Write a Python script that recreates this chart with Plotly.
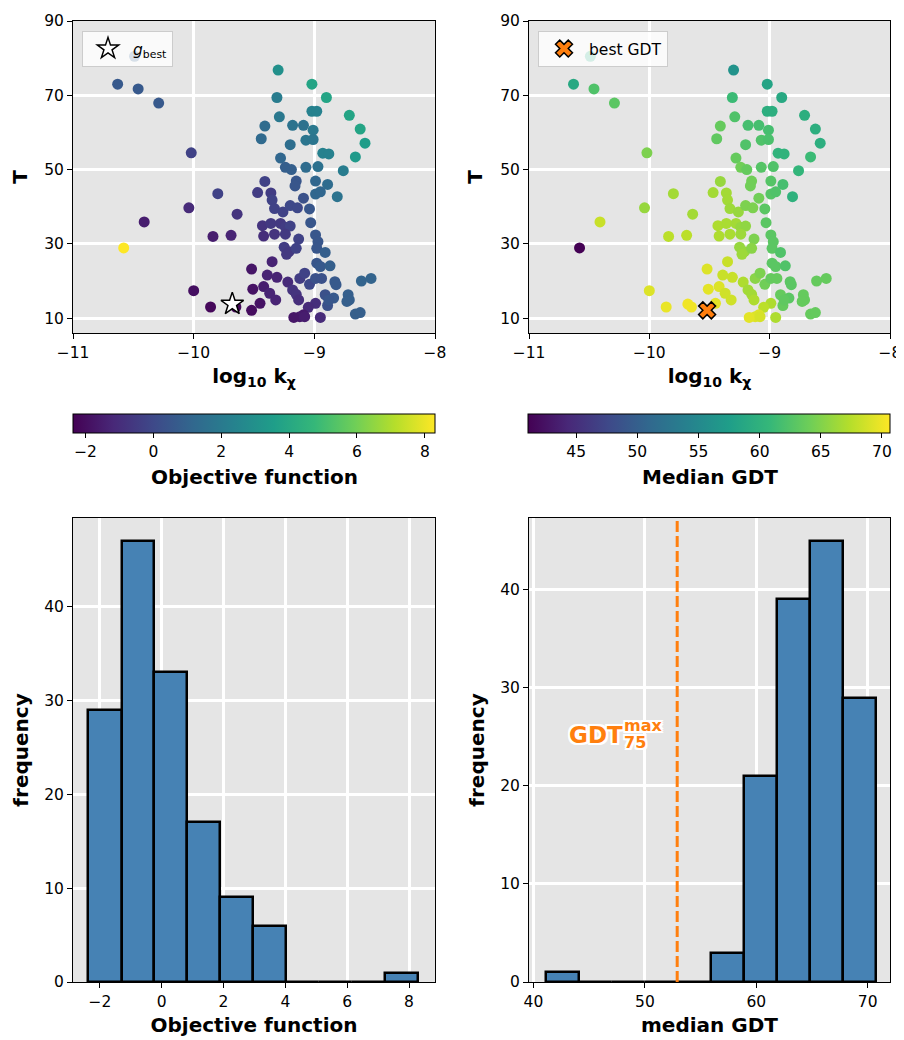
import numpy as np
import plotly.graph_objects as go

# ---------------- data ----------------
log10_kchi = [-10.49, -10.63, -10.46, -10.29, -9.30, -9.02, -9.31, -8.90, -9.02, -8.98, -8.71, -9.29,
              -9.41, -9.18, -9.09, -9.01, -8.62, -9.44, -9.07, -9.01, -9.20, -8.58, -10.02, -8.93, -8.88, -8.66, -9.28,
              -9.24, -9.19, -9.07, -8.97, -8.76, -9.41, -9.15, -9.16, -8.99, -8.89, -9.47, -9.36, -9.35, -9.09, -8.99, -8.95, -8.81, -9.80,
              -10.04, -9.64, -10.41, -9.84, -9.69, -10.00, -9.86, -9.68, -9.65, -9.52,
              -9.33, -9.26, -9.20, -9.14, -9.04, -9.03, -9.43, -9.36, -9.28, -9.24, -9.20, -9.42, -9.33, -9.24,
              -8.99, -8.97, -9.13, -9.25, -9.21, -9.15, -9.23, -8.98, -8.91, -8.98, -8.95, -8.87, -9.35, -9.52,
              -9.39, -9.31, -9.22, -9.12, -9.08, -9.04, -8.99, -8.94, -8.83, -8.82, -8.61, -8.53, -9.51, -9.42,
              -9.37, -9.32, -9.45, -9.18, -9.15, -9.13, -8.91, -8.84, -8.89, -8.88, -8.72, -8.71, -8.73, -8.99,
              -9.05, -9.09, -9.12, -9.17, -9.08, -8.95, -8.66, -8.62, -10.58]
T_vals = [80.5, 73.0, 71.7, 67.9, 76.8, 73.0, 69.4, 69.4, 65.7, 65.7, 64.6, 64.2,
          61.7, 61.9, 61.9, 60.6, 60.9, 58.3, 57.9, 58.1, 56.7, 57.1, 54.5, 54.4, 54.2, 53.4, 53.1,
          50.6, 50.0, 50.6, 50.8, 49.7, 46.8, 46.9, 45.6, 46.9, 46.0, 43.8, 43.7, 41.8, 42.3, 43.4, 44.0, 42.7, 43.5,
          39.7, 38.0, 35.9, 32.0, 32.3, 17.4, 13.0, 13.8, 13.0, 12.1,
          39.5, 38.6, 40.3, 39.7, 39.4, 35.7, 34.9, 35.5, 35.5, 34.5, 34.8, 32.1, 32.6, 32.6,
          32.4, 30.6, 31.3, 29.1, 27.9, 28.8, 27.2, 28.8, 27.7, 24.8, 23.9, 24.1, 25.2, 23.2,
          21.6, 21.0, 19.7, 20.7, 22.1, 19.1, 20.7, 20.7, 19.8, 19.0, 20.0, 20.7, 17.8, 18.5,
          16.7, 14.9, 14.0, 17.6, 16.4, 14.9, 16.3, 15.4, 13.4, 14.9, 16.3, 14.9, 14.5, 14.0,
          12.9, 10.9, 10.4, 10.2, 10.4, 10.2, 11.1, 11.5, 28.9]
objective = [0.83, 0.62, 0.62, 0.62, 2.97, 3.82, 2.11, 3.82, 2.32, 2.32, 3.82, 1.90,
             1.36, 1.68, 1.58, 1.90, 3.82, 1.26, 1.79, 1.79, 1.47, 3.50, -0.24, 2.32, 2.32, 3.39, 1.15,
             0.83, 0.83, 1.36, 1.58, 2.11, -0.24, 0.51, 0.51, 1.15, 1.36, -0.45, -0.45, -0.24, 0.30, 1.15, 1.15, 1.68, -0.24,
             -1.09, -0.77, -1.52, -1.52, -1.30, -1.94, -2.16, -2.37, -2.16, -2.05,
             -0.24, -0.24, -0.02, -0.02, 0.51, 0.51, -0.77, -0.56, -0.56, -0.45, -0.24, -0.98, -0.77, -0.56,
             0.51, 0.51, -0.24, -0.45, -0.56, -0.24, -0.56, 0.51, 0.83, 0.51, 0.62, 0.83, -1.30, -1.73,
             -1.30, -1.30, -1.09, -0.45, -0.24, -0.02, 0.30, 0.30, 0.62, 0.62, 1.04, 1.04, -1.84, -1.52,
             -1.30, -1.30, -1.84, -0.77, -0.77, -0.98, 0.30, 0.62, 0.30, 0.51, 0.83, 0.83, 0.83, -0.98,
             -1.09, -1.62, -1.62, -1.73, -1.52, -1.09, 0.83, 0.83, 8.30]
median_gdt = [58.9, 58.9, 62.4, 63.0, 56.2, 58.3, 61.2, 58.9, 59.7, 59.7, 59.7, 62.4,
              63.6, 61.8, 61.8, 61.8, 59.7, 63.3, 62.4, 62.1, 62.4, 59.7, 64.8, 60.3, 60.3, 61.2, 63.6,
              64.2, 63.6, 62.7, 62.4, 60.6, 66.0, 64.2, 64.2, 62.7, 61.8, 66.6, 66.6, 66.6, 64.2, 62.7, 62.4, 60.0, 66.6,
              66.0, 66.6, 68.3, 67.7, 67.7, 69.2, 69.8, 70.1, 70.1, 70.7,
              66.3, 66.0, 64.8, 64.8, 63.0, 63.0, 67.1, 66.9, 66.6, 66.0, 65.7, 67.1, 66.9, 66.3,
              63.0, 63.0, 64.8, 66.0, 66.0, 65.4, 66.3, 63.0, 62.4, 63.0, 63.0, 62.4, 68.3, 69.2,
              68.3, 68.3, 67.1, 65.4, 64.8, 64.2, 63.6, 63.6, 63.0, 63.0, 63.6, 63.6, 69.5, 69.2,
              68.6, 68.6, 69.5, 66.6, 66.6, 67.1, 63.6, 63.0, 63.6, 63.3, 63.6, 63.6, 63.6, 67.1,
              67.7, 69.2, 69.2, 69.5, 68.9, 67.1, 63.6, 63.6, 41.1]

obj_bin_edges = [-2.37, -1.30, -0.24, 0.83, 1.90, 2.96, 4.03, 5.10, 6.16, 7.23, 8.30]
obj_counts = [29, 47, 33, 17, 9, 6, 0, 0, 0, 1]
gdt_bin_edges = [41.10, 44.06, 47.02, 49.98, 52.94, 55.90, 58.86, 61.82, 64.78, 67.74, 70.70]
gdt_counts = [1, 0, 0, 0, 0, 3, 21, 39, 45, 29]
gdt75_max = 52.9

# ---------------- figure ----------------
OFF = 8                      # page body margin of the html page
W, H = 904 - OFF, 1040 - OFF
FONT = "DejaVu Sans"
ORANGE = "#ff7f0e"
TICK = 15.5
TITLE = 20

def px_x(a, b):
    return [(a - OFF) / W, (b - OFF) / W]

def px_y(top, bottom):
    return [1 - (bottom - OFF) / H, 1 - (top - OFF) / H]

def fx(a):
    return (a - OFF) / W

def fy(b):
    return 1 - (b - OFF) / H

xdom_l = px_x(73, 435)
xdom_r = px_x(529, 890)
ydom_top = px_y(21, 333)
ydom_bot = px_y(518, 982)

lk = np.array(log10_kchi)
Tv = np.array(T_vals)
ob = np.array(objective)
gd = np.array(median_gdt)
i_best_obj = int(np.argmin(ob))
i_best_gdt = int(np.argmax(gd))

fig = go.Figure()

cb_common = dict(orientation="h", len=362, lenmode="pixels", thickness=19, thicknessmode="pixels",
                 outlinecolor="black", outlinewidth=1, ticks="outside", ticklen=5, tickcolor="black",
                 tickfont=dict(family=FONT, size=TICK, color="black"), y=fy(414), yanchor="top",
                 xpad=0, ypad=0)

fig.add_trace(go.Scatter(
    x=lk, y=Tv, mode="markers", xaxis="x", yaxis="y", showlegend=False,
    marker=dict(size=11, color=ob, colorscale="Viridis", cmin=ob.min(), cmax=ob.max(),
                colorbar=dict(**cb_common, x=fx((73 + 435) / 2), xanchor="center",
                              tickvals=[-2, 0, 2, 4, 6, 8]))))
fig.add_trace(go.Scatter(
    x=[lk[i_best_obj]], y=[Tv[i_best_obj]], mode="markers", xaxis="x", yaxis="y",
    name="<i>g</i><sub>best</sub>", legend="legend",
    marker=dict(symbol="star", size=17, color="white", line=dict(color="black", width=1.5))))

fig.add_trace(go.Scatter(
    x=lk, y=Tv, mode="markers", xaxis="x2", yaxis="y2", showlegend=False,
    marker=dict(size=11, color=gd, colorscale="Viridis", cmin=gd.min(), cmax=gd.max(),
                colorbar=dict(**cb_common, x=fx((529 + 890) / 2), xanchor="center",
                              tickvals=[45, 50, 55, 60, 65, 70]))))
fig.add_trace(go.Scatter(
    x=[lk[i_best_gdt]], y=[Tv[i_best_gdt]], mode="markers", xaxis="x2", yaxis="y2",
    name="best GDT", legend="legend2",
    marker=dict(symbol="x", size=15, color=ORANGE, line=dict(color="black", width=1.5))))

# histograms
oe = np.array(obj_bin_edges)
ge = np.array(gdt_bin_edges)
fig.add_trace(go.Bar(x=(oe[:-1] + oe[1:]) / 2, y=obj_counts, width=np.diff(oe), xaxis="x3", yaxis="y3",
                     showlegend=False, marker=dict(color="#4682b4", line=dict(color="black", width=2.5))))
fig.add_trace(go.Bar(x=(ge[:-1] + ge[1:]) / 2, y=gdt_counts, width=np.diff(ge), xaxis="x4", yaxis="y4",
                     showlegend=False, marker=dict(color="#4682b4", line=dict(color="black", width=2.5))))

axis_common = dict(showgrid=True, gridcolor="white", gridwidth=3, showline=True, linecolor="black",
                   linewidth=1, mirror=True, ticks="outside", ticklen=5, tickcolor="black", zeroline=False,
                   tickfont=dict(family=FONT, size=TICK, color="black"))
tfont = dict(family=FONT, size=TITLE, color="black")

fig.update_layout(
    width=W, height=H, margin=dict(l=0, r=0, t=0, b=0, autoexpand=False),
    paper_bgcolor="white", plot_bgcolor="#e5e5e5",
    font=dict(family=FONT, size=TICK, color="black"),
    bargap=0,
    xaxis=dict(**axis_common, domain=xdom_l, anchor="y", range=[-11, -8], tickvals=[-11, -10, -9, -8],
               title=dict(text="<b>log<sub>10</sub> k<sub>χ</sub></b>", font=tfont, standoff=8)),
    yaxis=dict(**axis_common, domain=ydom_top, anchor="x", range=[6, 90], tickvals=[10, 30, 50, 70, 90],
               title=dict(text="<b>T</b>", font=tfont, standoff=12)),
    xaxis2=dict(**axis_common, domain=xdom_r, anchor="y2", range=[-11, -8], tickvals=[-11, -10, -9, -8],
                title=dict(text="<b>log<sub>10</sub> k<sub>χ</sub></b>", font=tfont, standoff=8)),
    yaxis2=dict(**axis_common, domain=ydom_top, anchor="x2", range=[6, 90], tickvals=[10, 30, 50, 70, 90],
                title=dict(text="<b>T</b>", font=tfont, standoff=12)),
    xaxis3=dict(**axis_common, domain=xdom_l, anchor="y3", range=[-2.87, 8.84], tickvals=[-2, 0, 2, 4, 6, 8],
                title=dict(text="<b>Objective function</b>", font=tfont, standoff=8)),
    yaxis3=dict(**axis_common, domain=ydom_bot, anchor="x3", range=[0, 49.4], tickvals=[0, 10, 20, 30, 40],
                title=dict(text="<b>frequency</b>", font=tfont, standoff=10)),
    xaxis4=dict(**axis_common, domain=xdom_r, anchor="y4", range=[39.6, 72.0], tickvals=[40, 50, 60, 70],
                title=dict(text="<b>median GDT</b>", font=tfont, standoff=8)),
    yaxis4=dict(**axis_common, domain=ydom_bot, anchor="x4", range=[0, 47.3], tickvals=[0, 10, 20, 30, 40],
                title=dict(text="<b>frequency</b>", font=tfont, standoff=10)),
    legend=dict(x=fx(82), y=fy(31), xanchor="left", yanchor="top", bgcolor="rgba(255,255,255,0.8)",
                bordercolor="#cccccc", borderwidth=1, font=dict(family=FONT, size=TICK, color="black"),
                itemwidth=40),
    legend2=dict(x=fx(538), y=fy(31), xanchor="left", yanchor="top", bgcolor="rgba(255,255,255,0.8)",
                 bordercolor="#cccccc", borderwidth=1, font=dict(family=FONT, size=TICK, color="black"),
                 itemwidth=40),
)

# colorbar titles
fig.add_annotation(xref="paper", yref="paper", x=fx((73 + 435) / 2), y=fy(477), xanchor="center",
                   yanchor="middle", showarrow=False, text="<b>Objective function</b>", font=tfont)
fig.add_annotation(xref="paper", yref="paper", x=fx((529 + 890) / 2), y=fy(477), xanchor="center",
                   yanchor="middle", showarrow=False, text="<b>Median GDT</b>", font=tfont)

fig.add_shape(type="line", xref="x4", yref="y4 domain", x0=gdt75_max, x1=gdt75_max, y0=0, y1=1,
              line=dict(color=ORANGE, width=3, dash="11px,4px"))

shadow = ", ".join(f"{dx}px {dy}px 0 white" for dx in (-2, 0, 2) for dy in (-2, 0, 2) if (dx, dy) != (0, 0))
fig.add_annotation(xref="x4", yref="y4", x=48.2, y=25.2, xanchor="right", yanchor="middle", showarrow=False,
                   text="<b>GDT</b>", font=dict(family=FONT, size=23, color=ORANGE, shadow=shadow))
fig.add_annotation(xref="x4", yref="y4", x=47.95, y=26.1, xanchor="left", yanchor="middle", showarrow=False,
                   text="<b>max</b>", font=dict(family=FONT, size=16, color=ORANGE, shadow=shadow))
fig.add_annotation(xref="x4", yref="y4", x=47.95, y=24.4, xanchor="left", yanchor="middle", showarrow=False,
                   text="<b>75</b>", font=dict(family=FONT, size=16, color=ORANGE, shadow=shadow))

fig.write_html("out.html")
